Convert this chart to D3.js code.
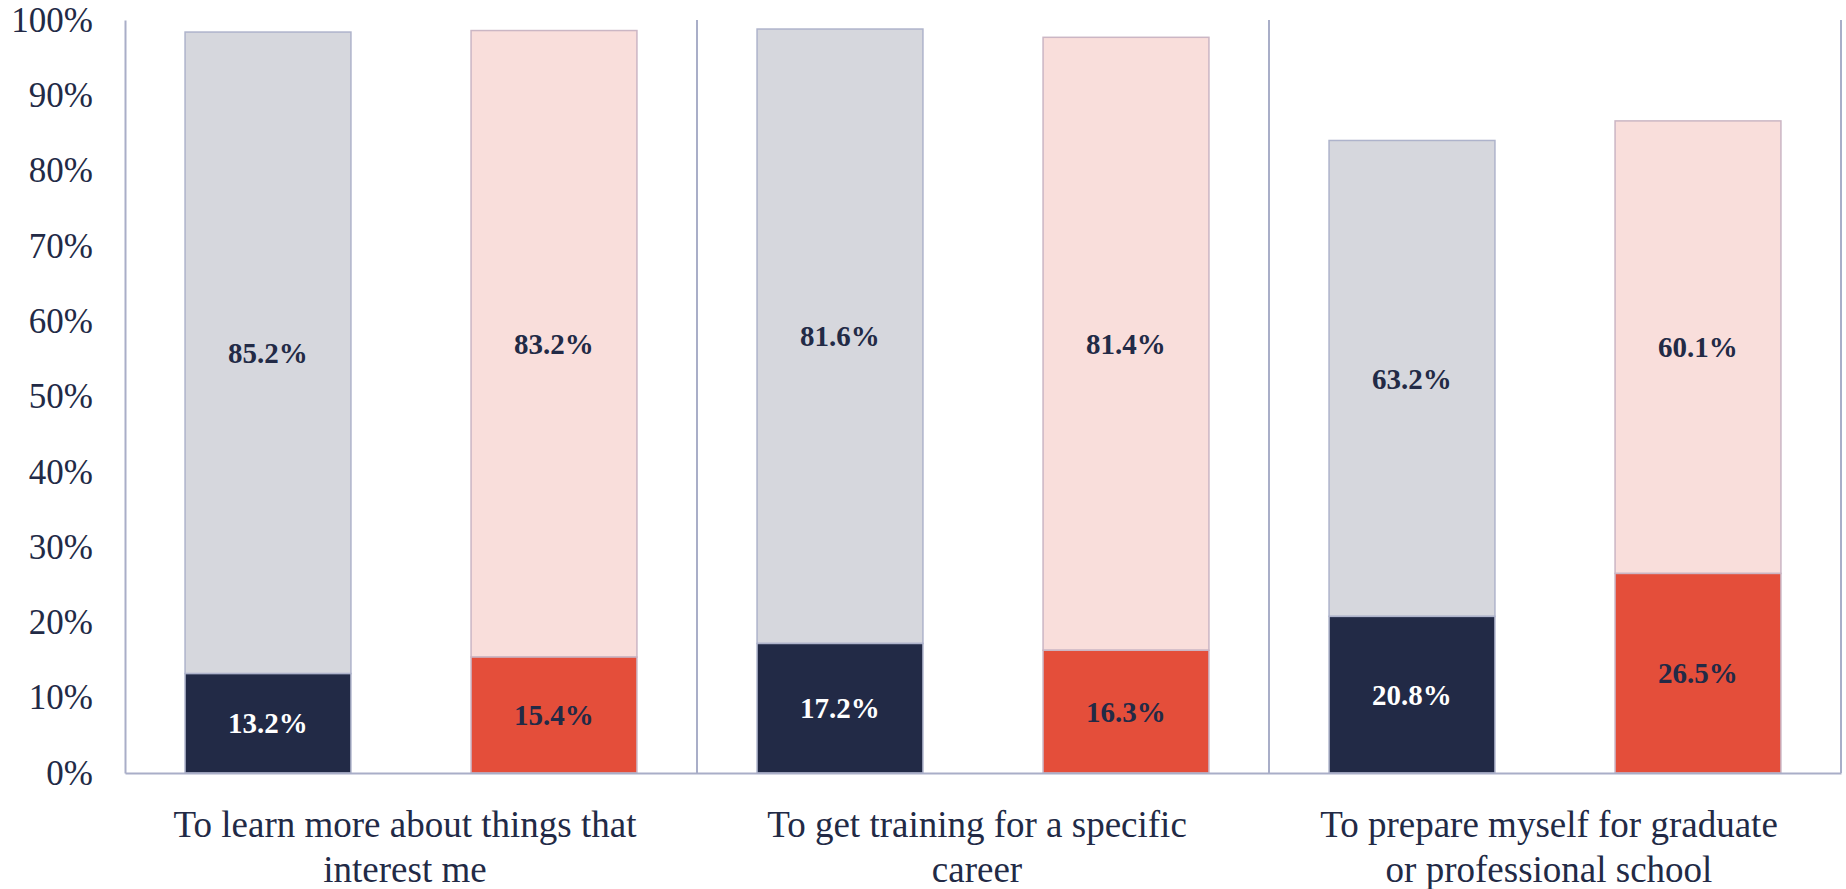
<!DOCTYPE html>
<html>
<head>
<meta charset="utf-8">
<script src="https://cdn.jsdelivr.net/npm/d3@7"></script>
<style>
  html, body { margin: 0; padding: 0; background: #fff; }
  svg { display: block; }
</style>
</head>
<body>
<svg width="1846" height="889"></svg>
<script>
// categories (x groups), "\n" marks the line break of the wrapped label
const categories = [
  "To learn more about things that\ninterest me",
  "To get training for a specific\ncareer",
  "To prepare myself for graduate\nor professional school"
];
const groups = ["first", "second"];

// first bar of each pair (navy base + grey top)
const firstBase = [13.2, 17.2, 20.8];
const firstTop  = [85.2, 81.6, 63.2];
// second bar of each pair (red base + pink top)
const secondBase = [15.4, 16.3, 26.5];
const secondTop  = [83.2, 81.4, 60.1];

const yTicks = [0, 0.1, 0.2, 0.3, 0.4, 0.5, 0.6, 0.7, 0.8, 0.9, 1];

const svg = d3.select("svg"),
      margin = {top: 20, right: 5, bottom: 116, left: 125},
      width = +svg.attr("width") - margin.left - margin.right,
      height = +svg.attr("height") - margin.top - margin.bottom,
      g = svg.append("g").attr("transform", `translate(${margin.left},${margin.top})`);

const navy = "#222a46";
const axisColor = "#a9aec8";
const font = "'Liberation Serif', 'Times New Roman', serif";

const styles = {
  first:  {base: navy,      top: "#d6d7dd", stroke: "#aeb3cb", baseText: "#ffffff", topText: navy},
  second: {base: "#e44e3a", top: "#f9dedb", stroke: "#cbb6c4", baseText: navy,      topText: navy}
};

const rows = [];
categories.forEach((c, i) => {
  rows.push({cat: c, grp: "first",  base: firstBase[i] / 100,  top: firstTop[i] / 100});
  rows.push({cat: c, grp: "second", base: secondBase[i] / 100, top: secondTop[i] / 100});
});

const x0 = d3.scaleBand().domain(categories).range([0, width]).padding(0);
const x1 = d3.scaleBand().domain(groups).range([0, x0.bandwidth()])
  .paddingInner(0.42).paddingOuter(0.21);
const y = d3.scaleLinear().domain([0, 1]).range([height, 0]);

// bars
const bar = g.selectAll(".bar")
  .data(rows)
  .enter()
  .append("g")
  .attr("class", "bar")
  .attr("transform", d => `translate(${x0(d.cat) + x1(d.grp)},0)`);

bar.append("rect")
  .attr("x", 0)
  .attr("y", d => y(d.base + d.top))
  .attr("width", x1.bandwidth())
  .attr("height", d => y(d.base) - y(d.base + d.top))
  .attr("fill", d => styles[d.grp].top)
  .attr("stroke", d => styles[d.grp].stroke)
  .attr("stroke-width", 1.5);

bar.append("rect")
  .attr("x", 0)
  .attr("y", d => y(d.base))
  .attr("width", x1.bandwidth())
  .attr("height", d => y(0) - y(d.base))
  .attr("fill", d => styles[d.grp].base)
  .attr("stroke", d => styles[d.grp].stroke)
  .attr("stroke-width", 1.5);

const fmt = v => (v * 100).toFixed(1) + "%";

bar.append("text")
  .attr("x", x1.bandwidth() / 2)
  .attr("y", d => y(d.base / 2))
  .attr("dy", "0.35em")
  .attr("text-anchor", "middle")
  .style("font-family", font)
  .style("font-size", "29px")
  .style("font-weight", "700")
  .style("fill", d => styles[d.grp].baseText)
  .text(d => fmt(d.base));

bar.append("text")
  .attr("x", x1.bandwidth() / 2)
  .attr("y", d => y(d.base + d.top / 2))
  .attr("dy", "0.35em")
  .attr("text-anchor", "middle")
  .style("font-family", font)
  .style("font-size", "29px")
  .style("font-weight", "700")
  .style("fill", d => styles[d.grp].topText)
  .text(d => fmt(d.top));

// y axis
const yAxis = g.append("g")
  .call(d3.axisLeft(y).tickValues(yTicks).tickFormat(d3.format(".0%")).tickSize(0).tickPadding(32));
yAxis.select(".domain").attr("stroke", axisColor).attr("stroke-width", 2);
yAxis.selectAll("text")
  .style("font-family", font)
  .style("font-size", "35px")
  .style("fill", navy);

// x axis
const xAxis = g.append("g")
  .attr("transform", `translate(0,${height})`)
  .call(d3.axisBottom(x0).tickSize(0).tickFormat(""));
xAxis.select(".domain").attr("stroke", axisColor).attr("stroke-width", 2);

// group dividers
g.selectAll(".divider")
  .data(categories)
  .enter()
  .append("line")
  .attr("class", "divider")
  .attr("x1", d => x0(d) + x0.bandwidth())
  .attr("x2", d => x0(d) + x0.bandwidth())
  .attr("y1", y(1))
  .attr("y2", y(0))
  .attr("stroke", axisColor)
  .attr("stroke-width", 2);

// category labels
const catLabel = g.selectAll(".cat")
  .data(categories)
  .enter()
  .append("text")
  .attr("class", "cat")
  .attr("x", d => x0(d) + x0.bandwidth() / 2 - 6)
  .attr("y", height + 64)
  .attr("text-anchor", "middle")
  .style("font-family", font)
  .style("font-size", "37px")
  .style("fill", navy);

catLabel.selectAll("tspan")
  .data(d => d.split("\n"))
  .enter()
  .append("tspan")
  .attr("x", function () { return d3.select(this.parentNode).attr("x"); })
  .attr("dy", (d, i) => i === 0 ? 0 : 45)
  .text(d => d);
</script>
</body>
</html>
